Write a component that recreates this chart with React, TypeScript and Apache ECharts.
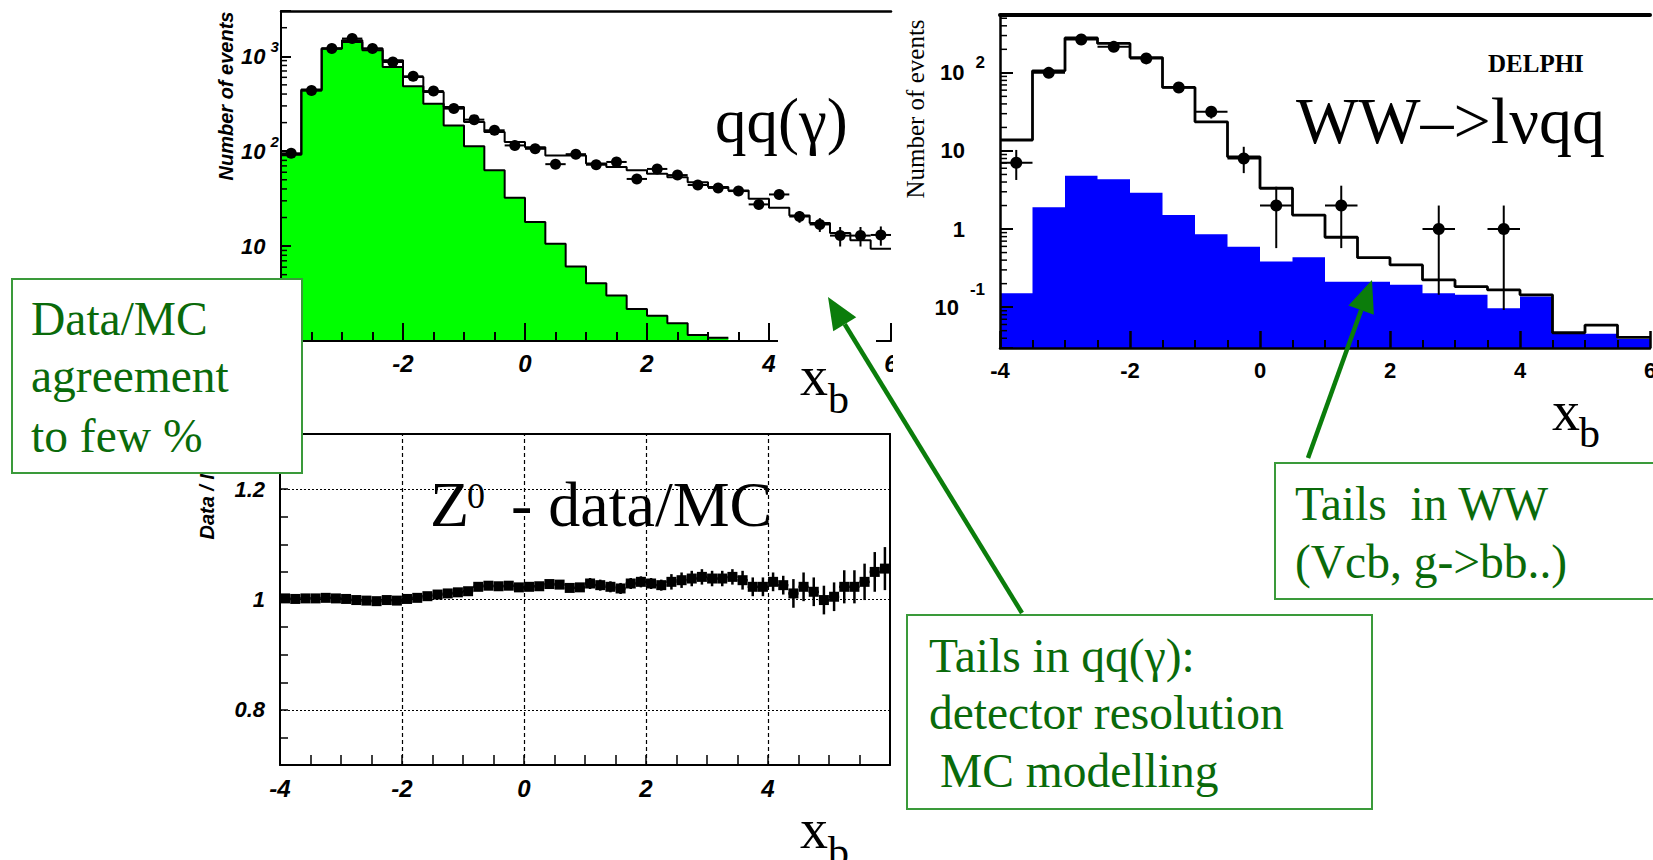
import React, { useEffect, useRef } from "react";
import * as echarts from "echarts";

const X_MIN = -4;
const X_MAX = 6;

// ---------- qq(gamma) panel : 30 bins of width 1/3 ----------
const QQ_BIN = 1 / 3;
const qqData = [95, 437, 1205, 1537, 1205, 871, 615, 430, 281, 215, 166, 115, 106, 73, 93, 72, 77, 51, 65, 56, 44, 41, 38, 27.5, 35, 20.5, 16.9, 12.9, 12.9, 13.1];
const qqDataErr = [4, 9, 15, 17, 15, 13, 11, 9, 7, 6, 5, 4.5, 4.3, 3.6, 4, 3.6, 3.7, 3.2, 3.4, 3.2, 3.2, 3.2, 3.3, 2.8, 3.4, 2.9, 2.8, 3.0, 3.0, 3.0];
const qqMC = [92, 446, 1205, 1475, 1205, 907, 605, 420, 292, 203, 159, 125, 110, 90, 90, 74, 68, 63, 58, 53, 47, 42, 38.5, 31.5, 25.4, 21, 17.5, 13.7, 11.5, 9.4];
const qqGreen = [92, 437, 1205, 1416, 1157, 771, 483, 317, 187, 113, 63, 32.3, 17.9, 10.6, 6.1, 4.06, 3.01, 2.18, 1.85, 1.54, 1.16, 1.08];
const QQ_Y_MIN = 1;
const QQ_Y_MAX = 3000;
const qqMinorTicks = [2, 3, 4, 5, 6, 7, 8, 9, 20, 30, 40, 50, 60, 70, 80, 90, 200, 300, 400, 500, 600, 700, 800, 900, 2000];

// ---------- Z0 data/MC ratio panel : 60 bins of width 1/6 ----------
const R_BIN = 1 / 6;
const ratio = [
  1.002, 1.001, 1.002, 1.002, 1.003, 1.002, 1.001,
  0.999, 0.998, 0.997, 0.999, 0.998,
  1.001, 1.003, 1.006, 1.009, 1.011, 1.013, 1.015,
  1.023, 1.025, 1.024, 1.025, 1.022, 1.023, 1.024, 1.028, 1.027, 1.021, 1.022,
  1.029, 1.026, 1.023, 1.020, 1.029, 1.032, 1.029, 1.026, 1.032, 1.035,
  1.038, 1.041, 1.038, 1.038, 1.041, 1.035, 1.023, 1.023, 1.032, 1.026,
  1.011, 1.023, 1.014, 0.999, 1.005, 1.023, 1.023, 1.032, 1.050, 1.056,
];
const ratioErr = [
  0.005, 0.005, 0.005, 0.005, 0.005, 0.005, 0.005, 0.005, 0.005, 0.005,
  0.005, 0.005, 0.005, 0.005, 0.005, 0.005, 0.005, 0.005, 0.005,
  0.007, 0.007, 0.007, 0.007, 0.007, 0.007, 0.007, 0.007, 0.007, 0.007, 0.007,
  0.010, 0.010, 0.010, 0.010, 0.010, 0.010, 0.010, 0.010,
  0.014, 0.014, 0.014, 0.014, 0.014, 0.014, 0.014,
  0.017, 0.017, 0.017, 0.017, 0.017,
  0.026, 0.026, 0.026, 0.026, 0.026,
  0.030, 0.030, 0.033, 0.036, 0.039,
];
const R_Y_MIN = 0.7;
const R_Y_MAX = 1.3;
const ratioGridY = [0.8, 1, 1.2];
const ratioGridX = [-2, 0, 2, 4];

// ---------- WW -> l nu q q panel : 20 bins of width 0.5 ----------
const WW_BIN = 0.5;
const wwMC = [13.8, 106, 280, 238, 157, 65, 23.6, 8.4, 3.33, 1.51, 0.785, 0.43, 0.347, 0.223, 0.183, 0.166, 0.144, 0.047, 0.059, 0.041];
const wwBlue = [0.151, 1.9, 4.82, 4.33, 2.92, 1.51, 0.857, 0.595, 0.383, 0.436, 0.212, 0.212, 0.193, 0.151, 0.144, 0.097, 0.137, 0.047, 0.0456, 0.039];
const wwDataX = [-3.75, -3.25, -2.75, -2.25, -1.75, -1.25, -0.75, -0.25, 0.25, 1.25, 2.75, 3.75];
const wwDataY = [7.06, 100, 267, 215, 153, 65, 31.7, 8.0, 2.0, 2.0, 1.0, 1.0];
const wwDataLo = [4.25, 90, 250, 200, 141, 57, 26, 5.2, 0.57, 0.57, 0.144, 0.092];
const wwDataHi = [10.3, 110, 285, 230, 165, 73, 37.5, 11.3, 3.48, 3.59, 2.0, 2.0];
const WW_Y_MIN = 0.03;
const WW_Y_MAX = 550;
const wwMinorTicks = [0.04, 0.05, 0.06, 0.07, 0.08, 0.09, 0.2, 0.3, 0.4, 0.5, 0.6, 0.7, 0.8, 0.9, 2, 3, 4, 5, 6, 7, 8, 9, 20, 30, 40, 50, 60, 70, 80, 90, 200, 300, 400, 500];

// ---------- styling ----------
const SERIF = '"Liberation Serif", "Times New Roman", serif';
const SANS = '"Liberation Sans", Arial, sans-serif';
const TEXT_GREEN = "#0a6a0a";
const BOX_GREEN = "#3a9a3a";
const ARROW_GREEN = "#0b7d0b";
const NOTE_SIZE = 47.5;

const steps = (vals: number[], bin: number) => {
  const pts = vals.map((v, i) => [X_MIN + i * bin, v]);
  pts.push([X_MIN + vals.length * bin, vals[vals.length - 1]]);
  return pts;
};

const pointRender = (shape: string, r: number, lw: number) => (params: any, api: any) => {
  const x = api.value(0), y = api.value(1), hw = api.value(2), lo = api.value(3), hi = api.value(4);
  const c = api.coord([x, y]);
  const l = api.coord([x - hw, y]);
  const rr = api.coord([x + hw, y]);
  const t = api.coord([x, hi]);
  const b = api.coord([x, lo]);
  const marker =
    shape === "circle"
      ? { type: "circle", shape: { cx: c[0], cy: c[1], r }, style: { fill: "#000" } }
      : { type: "rect", shape: { x: c[0] - r, y: c[1] - r, width: 2 * r, height: 2 * r }, style: { fill: "#000" } };
  return {
    type: "group",
    children: [
      { type: "line", shape: { x1: l[0], y1: c[1], x2: rr[0], y2: c[1] }, style: { stroke: "#000", lineWidth: lw } },
      { type: "line", shape: { x1: c[0], y1: t[1], x2: c[0], y2: b[1] }, style: { stroke: "#000", lineWidth: lw } },
      marker,
    ],
  };
};

const tickRender = (len: number) => (params: any, api: any) => {
  const p = api.coord([api.value(0), api.value(1)]);
  return { type: "line", shape: { x1: p[0], y1: p[1], x2: p[0] + len, y2: p[1] }, style: { stroke: "#000", lineWidth: 1.5 } };
};

const borderAxis = (gridIndex: number, position: string, min: number, max: number, width: number) => ({
  gridIndex,
  type: "value",
  position,
  min,
  max,
  z: 10,
  axisLine: { show: true, onZero: false, lineStyle: { color: "#000", width } },
  axisTick: { show: false },
  axisLabel: { show: false },
  splitLine: { show: false },
});

const txt = (text: string, x: number, baseline: number, size: number, fill: string, extra: any = {}) => ({
  type: "text",
  x,
  y: baseline - 0.34 * size,
  z: extra.z ?? 62,
  style: {
    text,
    font: `${extra.style ?? ""} ${extra.weight ?? ""} ${size}px ${SERIF}`.trim(),
    fill,
    align: "left",
    verticalAlign: "middle",
  },
});

const arrow = (bx: number, by: number, tx: number, ty: number) => {
  const dx = tx - bx, dy = ty - by;
  const len = Math.sqrt(dx * dx + dy * dy);
  const ux = dx / len, uy = dy / len;
  const hl = 32, hw = 13.5;
  const cx = tx - ux * hl, cy = ty - uy * hl;
  const px = -uy, py = ux;
  return [
    { type: "line", z: 70, shape: { x1: bx, y1: by, x2: cx, y2: cy }, style: { stroke: ARROW_GREEN, lineWidth: 4.5 } },
    {
      type: "polygon",
      z: 70,
      shape: { points: [[tx, ty], [cx + px * hw, cy + py * hw], [cx - px * hw, cy - py * hw]] },
      style: { fill: ARROW_GREEN },
    },
  ];
};

function buildOption(): any {
  const tickLabel = {
    color: "#000",
    fontSize: 24,
    fontStyle: "italic",
    fontWeight: "bold",
    fontFamily: SANS,
  };
  const xAxes = [
    {
      gridIndex: 0, type: "value", min: X_MIN, max: X_MAX, interval: 2, z: 10,
      axisLine: { show: true, onZero: false, lineStyle: { color: "#000", width: 2 } },
      axisTick: { show: true, inside: true, length: 18, lineStyle: { color: "#000", width: 2 } },
      minorTick: { show: true, splitNumber: 4, length: 9, lineStyle: { color: "#000", width: 2 } },
      splitLine: { show: false },
      axisLabel: { ...tickLabel, margin: 10 },
    },
    borderAxis(0, "top", X_MIN, X_MAX, 2.5),
    {
      gridIndex: 1, type: "value", min: X_MIN, max: X_MAX, interval: 2, z: 10,
      axisLine: { show: true, onZero: false, lineStyle: { color: "#000", width: 2 } },
      axisTick: { show: true, inside: true, length: 10, lineStyle: { color: "#000", width: 1.5 } },
      minorTick: { show: true, splitNumber: 4, length: 10, lineStyle: { color: "#000", width: 1.5 } },
      splitLine: { show: false },
      axisLabel: { ...tickLabel, margin: 11, formatter: (v: number) => (v >= X_MAX ? "" : String(v)) },
    },
    borderAxis(1, "top", X_MIN, X_MAX, 2),
    {
      gridIndex: 2, type: "value", min: X_MIN, max: X_MAX, interval: 2, z: 10,
      axisLine: { show: true, onZero: false, lineStyle: { color: "#000", width: 2.5 } },
      axisTick: { show: true, inside: true, length: 17, lineStyle: { color: "#000", width: 2.5 } },
      minorTick: { show: true, splitNumber: 4, length: 8, lineStyle: { color: "#000", width: 2 } },
      splitLine: { show: false },
      axisLabel: { color: "#000", fontSize: 22, fontWeight: "bold", fontFamily: SANS, margin: 11 },
    },
    borderAxis(2, "top", X_MIN, X_MAX, 4),
  ];

  const qqRichBase = { color: "#000", fontStyle: "italic", fontWeight: "bold", fontFamily: SANS };
  const wwRichBase = { color: "#000", fontWeight: "bold", fontFamily: SANS };
  const isPow = (v: number) => {
    const e = Math.log10(v);
    const r = Math.round(e);
    return Math.abs(e - r) < 1e-6 ? r : null;
  };

  const yAxes = [
    {
      gridIndex: 0, type: "log", logBase: 10, min: QQ_Y_MIN, max: QQ_Y_MAX, z: 10,
      axisLine: { show: true, onZero: false, lineStyle: { color: "#000", width: 2 } },
      axisTick: { show: true, inside: true, length: 10, lineStyle: { color: "#000", width: 2 } },
      splitLine: { show: false },
      axisLabel: {
        align: "left", margin: 40,
        formatter: (v: number) => {
          const r = isPow(v);
          if (r === 1) return "{a|10}";
          if (r !== null && r >= 2) return "{a|10}{g| }{s|" + r + "}";
          return "";
        },
        rich: {
          a: { ...qqRichBase, fontSize: 22 },
          g: { ...qqRichBase, fontSize: 15, width: 5 },
          s: { ...qqRichBase, fontSize: 15, padding: [0, 0, 20, 0] },
        },
      },
    },
    {
      gridIndex: 1, type: "value", min: R_Y_MIN, max: R_Y_MAX, interval: 0.05, z: 10,
      axisLine: { show: true, onZero: false, lineStyle: { color: "#000", width: 2 } },
      axisTick: { show: true, inside: true, length: 8, lineStyle: { color: "#000", width: 1.5 } },
      splitLine: { show: false },
      axisLabel: {
        ...tickLabel, fontSize: 22, margin: 15,
        formatter: (v: number) => {
          for (const g of ratioGridY) if (Math.abs(v - g) < 1e-6) return String(g);
          return "";
        },
      },
    },
    borderAxis(1, "right", R_Y_MIN, R_Y_MAX, 2),
    {
      gridIndex: 2, type: "log", logBase: 10, min: WW_Y_MIN, max: WW_Y_MAX, z: 10,
      axisLine: { show: true, onZero: false, lineStyle: { color: "#000", width: 2.5 } },
      axisTick: { show: true, inside: true, length: 13, lineStyle: { color: "#000", width: 2 } },
      splitLine: { show: false },
      axisLabel: {
        align: "right", margin: 15,
        formatter: (v: number) => {
          const r = isPow(v);
          if (r === 0) return "{a|1}{sp| }";
          if (r === 1) return "{a|10}{sp| }";
          if (r === 2) return "{a|10}{g| }{s|2}";
          if (r === -1) return "{a|10}{g| }{m|-1}";
          return "";
        },
        rich: {
          a: { ...wwRichBase, fontSize: 22 },
          sp: { ...wwRichBase, fontSize: 17, width: 20 },
          g: { ...wwRichBase, fontSize: 17, width: 11 },
          s: { ...wwRichBase, fontSize: 17, padding: [0, 0, 20, 0] },
          m: { ...wwRichBase, fontSize: 17, padding: [0, 0, 36, 0] },
        },
      },
    },
  ];

  const series: any[] = [
    // qq panel
    {
      type: "line", xAxisIndex: 0, yAxisIndex: 0, step: "end", data: steps(qqGreen, QQ_BIN),
      symbol: "none", silent: true, z: 2,
      lineStyle: { color: "#000", width: 2 },
      areaStyle: { color: "#00ff00", opacity: 1, origin: "start" },
    },
    {
      type: "line", xAxisIndex: 0, yAxisIndex: 0, step: "end", data: steps(qqMC, QQ_BIN),
      symbol: "none", silent: true, z: 3, lineStyle: { color: "#000", width: 2 },
    },
    {
      type: "custom", xAxisIndex: 0, yAxisIndex: 0, z: 4, silent: true,
      data: qqData.map((v, i) => [X_MIN + (i + 0.5) * QQ_BIN, v, QQ_BIN / 2, v - qqDataErr[i], v + qqDataErr[i]]),
      encode: { x: 0, y: 1 },
      renderItem: pointRender("circle", 5.5, 2),
    },
    {
      type: "custom", xAxisIndex: 0, yAxisIndex: 0, z: 5, silent: true,
      data: qqMinorTicks.map((v) => [X_MIN, v]),
      encode: { x: 0, y: 1 },
      renderItem: tickRender(6),
    },
    // ratio panel
    {
      type: "line", xAxisIndex: 2, yAxisIndex: 1, z: 1, silent: true,
      data: ratio.map((v, i) => [X_MIN + (i + 0.5) * R_BIN, v]),
      symbol: "none", lineStyle: { opacity: 0 },
      markLine: {
        silent: true, symbol: ["none", "none"], label: { show: false },
        lineStyle: { color: "#000", width: 1.2, type: [2, 2] },
        data: [
          ...ratioGridY.map((y) => ({ yAxis: y })),
          ...ratioGridX.map((x) => ({ xAxis: x, lineStyle: { color: "#000", width: 1.2, type: [4, 3] } })),
        ],
      },
    },
    {
      type: "custom", xAxisIndex: 2, yAxisIndex: 1, z: 4, silent: true,
      data: ratio.map((v, i) => [X_MIN + (i + 0.5) * R_BIN, v, R_BIN / 2, v - ratioErr[i], v + ratioErr[i]]),
      encode: { x: 0, y: 1 },
      renderItem: pointRender("rect", 5, 2.5),
    },
    // WW panel
    {
      type: "line", xAxisIndex: 4, yAxisIndex: 3, step: "end", data: steps(wwBlue, WW_BIN),
      symbol: "none", silent: true, z: 2,
      lineStyle: { color: "#0000ff", width: 0 },
      areaStyle: { color: "#0000ff", opacity: 1, origin: "start" },
    },
    {
      type: "line", xAxisIndex: 4, yAxisIndex: 3, step: "end", data: steps(wwMC, WW_BIN),
      symbol: "none", silent: true, z: 3, lineStyle: { color: "#000", width: 2.8 },
    },
    {
      type: "custom", xAxisIndex: 4, yAxisIndex: 3, z: 4, silent: true,
      data: wwDataX.map((x, i) => [x, wwDataY[i], WW_BIN / 2, wwDataLo[i], wwDataHi[i]]),
      encode: { x: 0, y: 1 },
      renderItem: pointRender("circle", 6, 2),
    },
    {
      type: "custom", xAxisIndex: 4, yAxisIndex: 3, z: 5, silent: true,
      data: wwMinorTicks.map((v) => [X_MIN, v]),
      encode: { x: 0, y: 1 },
      renderItem: tickRender(7),
    },
  ];

  const box = (x: number, y: number, w: number, h: number) => ({
    type: "rect", z: 60, shape: { x, y, width: w, height: h },
    style: { fill: "#fff", stroke: BOX_GREEN, lineWidth: 2 },
  });
  const rotTitle = (text: string, x: number, y: number, font: string) => ({
    type: "text", x, y, rotation: Math.PI / 2, z: 55,
    style: { text, font, fill: "#000", align: "center", verticalAlign: "middle" },
  });

  const elements: any[] = [
    // white covers (label area of x_b over the qq axis, clipped "6")
    { type: "rect", z: 50, shape: { x: 778, y: 320, width: 98, height: 100 }, style: { fill: "#fff" } },
    { type: "rect", z: 50, shape: { x: 893, y: 348, width: 14, height: 30 }, style: { fill: "#fff" } },
    // axis titles
    rotTitle("Number of events", 226, 96, `italic bold 20px ${SANS}`),
    rotTitle("Data / MC", 207, 494, `italic bold 20px ${SANS}`),
    rotTitle("Number of events", 915, 109, `25px ${SERIF}`),
    // panel labels
    txt("qq(γ)", 715, 142, 63, "#000"),
    txt("WW–>lνqq", 1296, 143, 66, "#000"),
    txt("DELPHI", 1488, 72, 25, "#000", { weight: "bold" }),
    txt("Z", 430, 526, 64, "#000"),
    txt("0", 467, 508, 36, "#000"),
    txt("- data/MC", 511, 526, 64, "#000"),
    // x_b labels
    txt("x", 800, 395, 56, "#000"),
    txt("b", 828, 413, 42, "#000"),
    txt("x", 1552, 430, 56, "#000"),
    txt("b", 1579, 447, 42, "#000"),
    txt("x", 800, 848, 56, "#000"),
    txt("b", 828, 866, 42, "#000"),
    // annotation boxes
    box(12, 279, 290, 194),
    txt("Data/MC", 31, 335, NOTE_SIZE, TEXT_GREEN, { z: 61 }),
    txt("agreement", 31, 392, NOTE_SIZE, TEXT_GREEN, { z: 61 }),
    txt("to few %", 31, 452, NOTE_SIZE, TEXT_GREEN, { z: 61 }),
    box(907, 615, 465, 194),
    txt("Tails in qq(γ):", 929, 672, NOTE_SIZE, TEXT_GREEN, { z: 61 }),
    txt("detector resolution", 929, 729, NOTE_SIZE, TEXT_GREEN, { z: 61 }),
    txt("MC modelling", 940, 787, NOTE_SIZE, TEXT_GREEN, { z: 61 }),
    box(1275, 463, 400, 136),
    txt("Tails\u00a0 in WW", 1295, 520, NOTE_SIZE, TEXT_GREEN, { z: 61 }),
    txt("(Vcb, g->bb..)", 1295, 578, NOTE_SIZE, TEXT_GREEN, { z: 61 }),
    // arrows
    ...arrow(1022, 613, 828, 297),
    ...arrow(1308, 458, 1372, 280),
  ];

  return {
    animation: false,
    backgroundColor: "#fff",
    grid: [
      { left: 281, top: 11, width: 610, height: 330, containLabel: false, outerBoundsMode: "none" },
      { left: 280, top: 434, width: 610, height: 331, containLabel: false, outerBoundsMode: "none" },
      { left: 1000, top: 15, width: 650, height: 333, containLabel: false, outerBoundsMode: "none" },
    ],
    xAxis: xAxes,
    yAxis: yAxes,
    series,
    graphic: { elements },
  };
}

export default function App() {
  const ref = useRef<HTMLDivElement>(null);
  useEffect(() => {
    if (!ref.current) return;
    const chart = echarts.init(ref.current, null, { renderer: "svg" });
    chart.setOption(buildOption());
    return () => chart.dispose();
  }, []);
  return (
    <div
      ref={ref}
      style={{ position: "absolute", left: 0, top: 0, width: 1653, height: 860, background: "#fff" }}
    />
  );
}
